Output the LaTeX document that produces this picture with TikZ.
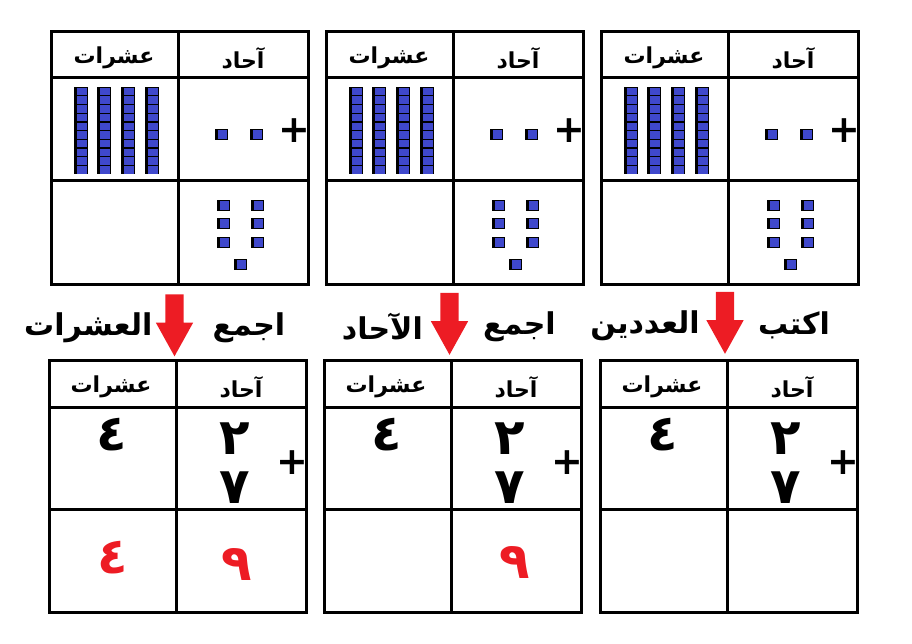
\documentclass[tikz,border=0pt]{standalone}
\usepackage{fontspec}
\newfontfamily\arabicfont[Script=Arabic]{DejaVu Sans}
\TeXXeTstate=1
\usetikzlibrary{positioning, shapes.arrows}
\definecolor{unitblue}{RGB}{63,72,204}
\definecolor{arrowred}{RGB}{237,28,36}
\newcommand{\artxt}[1]{\beginR #1\endR}

\begin{document}
\begin{tikzpicture}[
  x=1pt, y=-1pt,
  grid/.style={line width=3pt},
  head/.style={font=\arabicfont\bfseries\fontsize{22}{26}\selectfont, inner sep=0pt},
  steptext/.style={font=\arabicfont\bfseries\fontsize{30}{34}\selectfont, inner sep=0pt, yshift=-11pt},
  digit/.style={font=\arabicfont\bfseries\fontsize{50}{56}\selectfont, inner sep=0pt},
  result/.style={digit, text=arrowred},
  plus/.style={font=\arabicfont\bfseries\fontsize{38}{38}\selectfont, inner sep=0pt},
  downarrow/.style={single arrow, fill=arrowred, draw=none, shape border rotate=270,
    minimum height=62pt, inner sep=9pt, single arrow head extend=9.5pt,
    single arrow tip angle=58},
  unitsq/.pic={\fill[black] (0,0) rectangle (13,11); \fill[unitblue] (3,1) rectangle (12,10);},
  tenrod/.pic={\fill[black] (0,0) rectangle (14,87);
    \foreach \k in {0,...,9} \fill[unitblue] (3,{\k*8.7+0.8}) rectangle (13,{(\k+1)*8.7-0.4});}
]
\useasboundingbox (0,0) rectangle (912,644);

%------------------------------------------------
% Top tables (blocks)
%------------------------------------------------
\foreach \tl [count=\i] in {51,326,601} {
  \draw[grid] (\tl,32) rectangle ++(257,252);
  \draw[grid] (\tl,78) -- ++(257,0);
  \draw[grid] (\tl,181) -- ++(257,0);
  \draw[grid] ({\tl+127},32) -- ++(0,252);
  \node[head] (top\i-tens) at ({\tl+63},58) {\artxt{عشرات}};
  \node[head] (top\i-ones) at ({\tl+192},58) {\artxt{آحاد}};
  % four tens
  \foreach \r in {0,...,3} \pic at ({\tl+22.5+23.7*\r},87) {tenrod};
  % two ones, plus seven ones
  \pic at ({\tl+164},129) {unitsq};
  \pic at ({\tl+199},129) {unitsq};
  \foreach \ry in {200,218,237} {
    \pic at ({\tl+166},\ry) {unitsq};
    \pic at ({\tl+200},\ry) {unitsq};
  }
  \pic at ({\tl+183},259) {unitsq};
  \node[plus] (top\i-plus) at ({\tl+243},131) {+};
}

%------------------------------------------------
% Bottom tables (digits)
%------------------------------------------------
\foreach \bl [count=\i] in {49,324,600} {
  \draw[grid] (\bl,360) rectangle ++(257,252);
  \draw[grid] (\bl,407) -- ++(257,0);
  \draw[grid] (\bl,509) -- ++(257,0);
  \draw[grid] ({\bl+127},360) -- ++(0,252);
  \node[head] (bot\i-tens) at ({\bl+62},387) {\artxt{عشرات}};
  \node[head] (bot\i-ones) at ({\bl+192},387) {\artxt{آحاد}};
  \node[digit] (bot\i-four) at ({\bl+63},435) {٤};
  \node[digit] (bot\i-two) at ({\bl+186},439) {٢};
  \node[digit] (bot\i-seven) at ({\bl+186},488) {٧};
  \node[plus] (bot\i-plus) at ({\bl+243},463) {+};
}

% Results
\node[result] (sum-tens) at (113,558) {٤};
\node[result] (sum-ones1) at (237,564) {٩};
\node[result] (sum-ones2) at (515,562) {٩};

%------------------------------------------------
% Arrows and steps
%------------------------------------------------
\node[downarrow] (arrow1) at (174.5,317) {};
\node[downarrow] (arrow2) at (449.5,315.5) {};
\node[downarrow] (arrow3) at (725,314.5) {};

\node[steptext, right=38pt of arrow1.center] (add1) {\artxt{اجمع}};
\node[steptext, left=22pt of arrow1.center] (tens) {\artxt{العشرات}};
\node[steptext, right=33.5pt of arrow2.center] (add2) {\artxt{اجمع}};
\node[steptext, left=26.5pt of arrow2.center] (ones) {\artxt{الآحاد}};
\node[steptext, right=33pt of arrow3.center] (write) {\artxt{اكتب}};
\node[steptext, left=25pt of arrow3.center] (both) {\artxt{العددين}};

\end{tikzpicture}
\end{document}
